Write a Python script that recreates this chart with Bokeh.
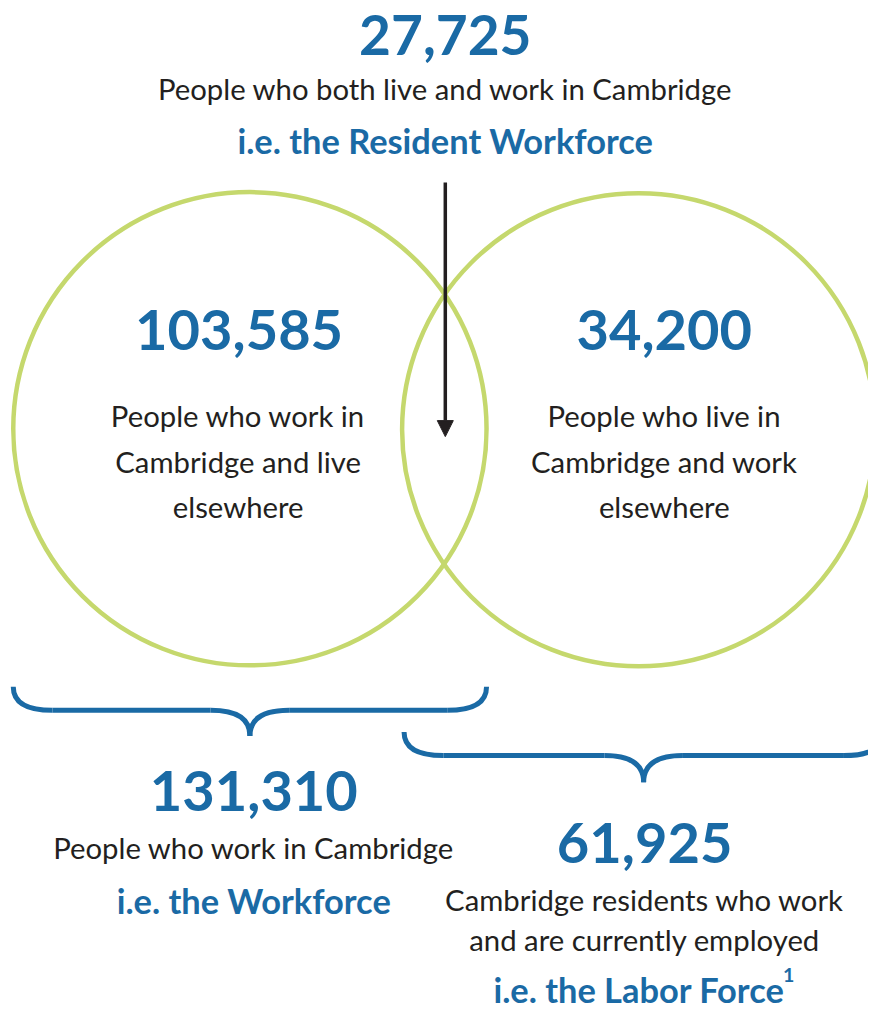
from bokeh.plotting import figure
from bokeh.models import Range1d, Arrow, NormalHead
from bokeh.core.properties import value
from bokeh.embed import file_html
from bokeh.resources import INLINE

# ---- data ----
resident_workforce = 27725
work_live_elsewhere = 103585
live_work_elsewhere = 34200
workforce = 131310
labor_force = 61925

fmt = lambda v: f"{v:,}"

# design space 884x1029, drawn into a 868x1013 figure
DW, DH = 884, 1029
W, H = 868, 1013
S = W / DW
BLUE = "#1A6AA5"
GREEN = "#C5D86D"
DARK = "#231F20"
FONT = "Lato"

p = figure(width=W, height=H, output_backend="svg", toolbar_location=None,
           x_range=Range1d(0, DW), y_range=Range1d(DH, 0),
           min_border=0, outline_line_color=None)
p.axis.visible = False
p.grid.visible = False

# circles
circles_cx = [254, 650]
circles_cy = [435, 436]
circles_r = [241, 241]
p.circle(x=circles_cx, y=circles_cy, radius=circles_r, fill_color=None,
         line_color=GREEN, line_width=4.5)

# arrow
p.add_layout(Arrow(end=NormalHead(size=16, fill_color=DARK, line_color=DARK),
                   x_start=453, y_start=185, x_end=453, y_end=443,
                   line_color=DARK, line_width=3.5))

# braces
def brace(x0, x1, ytop, yflat, ytip, r=40):
    xc = (x0 + x1) / 2
    segs = [
        ((x0, ytop), (x0, yflat), (x0 + r, yflat)),
        ((xc - r, yflat), (xc, yflat), (xc, ytip)),
        ((xc + r, yflat), (xc, yflat), (xc, ytip)),
        ((x1, ytop), (x1, yflat), (x1 - r, yflat)),
    ]
    p.quadratic(x0=[s[0][0] for s in segs], y0=[s[0][1] for s in segs],
                cx=[s[1][0] for s in segs], cy=[s[1][1] for s in segs],
                x1=[s[2][0] for s in segs], y1=[s[2][1] for s in segs],
                line_color=BLUE, line_width=5)
    p.segment(x0=[x0 + r, xc + r], y0=[yflat, yflat], x1=[xc - r, x1 - r], y1=[yflat, yflat],
              line_color=BLUE, line_width=5)

brace(13, 495, 697, 721, 747)
brace(411, 899, 743, 767, 794)

def txt(x, y, s, size, color, bold=False, align="center"):
    p.text(x=[x], y=[y - 3], text=[s], text_font=value(FONT),
           text_font_size=f"{size * S:.1f}px", text_color=color,
           text_font_style="bold" if bold else "normal",
           text_align=align, text_baseline="middle")

BIG, BODY, SUB = 57, 29.8, 35

txt(453, 38, fmt(resident_workforce), 56, BLUE, True)
txt(453, 92, "People who both live and work in Cambridge", BODY, DARK)
txt(453, 145, "i.e. the Resident Workforce", SUB, BLUE, True)

txt(243, 338, fmt(work_live_elsewhere), BIG, BLUE, True)
for i, s in enumerate(["People who work in", "Cambridge and live", "elsewhere"]):
    txt(242, 425 + 46 * i, s, BODY, DARK)

txt(676, 338, fmt(live_work_elsewhere), BIG, BLUE, True)
for i, s in enumerate(["People who live in", "Cambridge and work", "elsewhere"]):
    txt(676, 425 + 46 * i, s, BODY, DARK)

txt(258, 806, fmt(workforce), BIG, BLUE, True)
txt(258, 863, "People who work in Cambridge", BODY, DARK)
txt(258, 917, "i.e. the Workforce", SUB, BLUE, True)

txt(656, 859, fmt(labor_force), BIG, BLUE, True)
txt(656, 916, "Cambridge residents who work", BODY, DARK)
txt(656, 957, "and are currently employed", BODY, DARK)
txt(502, 1008, "i.e. the Labor Force", SUB, BLUE, True, align="left")
txt(797, 993, "1", 20, BLUE, True, align="left")

open("out.html", "w").write(file_html(p, INLINE))
